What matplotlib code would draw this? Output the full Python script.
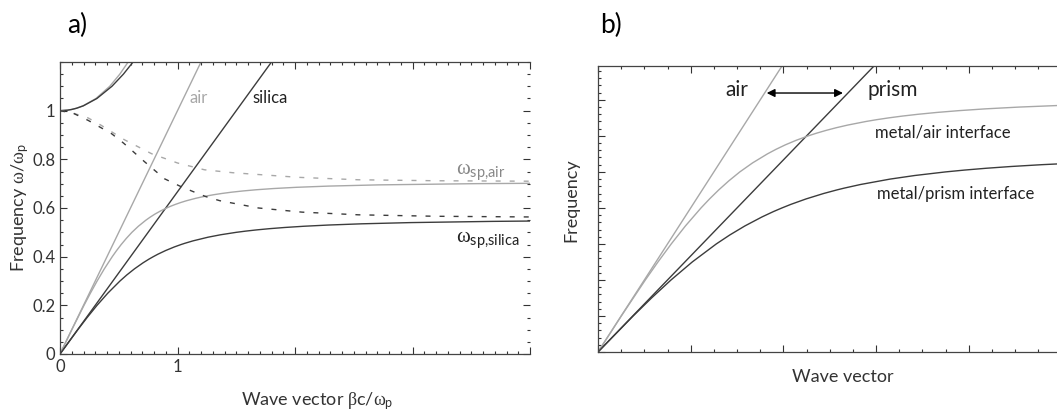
import matplotlib
matplotlib.use("Agg")
from matplotlib import pyplot as plt
from matplotlib.ticker import MultipleLocator, FixedLocator, NullFormatter

# light lines
air_line_beta = [0, 1.2]
air_line_omega = [0, 1.2]
silica_line_beta = [0, 1.8]
silica_line_omega = [0, 1.2]

# lower SPP branches
spp_air_omega = [0, 0.1, 0.2, 0.25, 0.3, 0.35, 0.4, 0.425, 0.45, 0.475, 0.5,
                 0.525, 0.55, 0.5625, 0.575, 0.5875, 0.6, 0.6075, 0.615,
                 0.6225, 0.63, 0.64, 0.645, 0.65, 0.655, 0.66, 0.665, 0.67,
                 0.675, 0.68, 0.685, 0.69, 0.695, 0.70, 0.702]
spp_air_beta = [0, 0.1005, 0.2043, 0.2588, 0.316, 0.3773, 0.4446, 0.4814,
                0.521, 0.5643, 0.612, 0.667, 0.731, 0.7675, 0.808, 0.8543,
                0.907, 0.943, 0.983, 1.0271, 1.0775, 1.1565, 1.2026, 1.2547,
                1.3135, 1.3816, 1.4611, 1.556, 1.671, 1.818, 2.011, 2.284,
                2.710, 3.535, 4.166]

spp_silica_omega = [0, 0.1, 0.15, 0.2, 0.25, 0.3, 0.325, 0.35, 0.375, 0.39,
                    0.4, 0.41, 0.425, 0.44, 0.45, 0.455, 0.465, 0.48, 0.49,
                    0.5, 0.505, 0.51, 0.515, 0.52, 0.525, 0.53, 0.535, 0.54,
                    0.545, 0.547]
spp_silica_beta = [0, 0.1517, 0.2311, 0.3151, 0.4068, 0.5104, 0.5689, 0.6339,
                   0.7077, 0.7575, 0.794, 0.8328, 0.898, 0.9733, 1.031,
                   1.0626, 1.1326, 1.260, 1.367, 1.5, 1.5803, 1.673, 1.7824,
                   1.914, 2.0762, 2.285, 2.566, 2.981, 3.681, 4.137]

# upper branches
upper_air_omega = [1, 1.002, 1.005, 1.01, 1.02, 1.05, 1.1, 1.15, 1.2, 1.21]
upper_air_beta = [0, 0.0631, 0.0995, 0.1404, 0.197, 0.306, 0.423, 0.509,
                  0.580, 0.5936]
upper_silica_omega = [1, 1.002, 1.005, 1.01, 1.02, 1.05, 1.1, 1.15, 1.2, 1.21]
upper_silica_beta = [0, 0.0633, 0.0998, 0.1411, 0.199, 0.314, 0.4416, 0.5394,
                     0.622, 0.6378]

# dashed curves
dash_air_beta = [0, 0.11, 0.24, 0.35, 0.55, 0.78, 1.0, 1.23, 1.47, 2.03,
                 2.54, 3.2, 4.05]
dash_air_omega = [1.0, 0.99, 0.97, 0.94, 0.88, 0.823, 0.785, 0.757, 0.745,
                  0.726, 0.716, 0.712, 0.71]
dash_silica_beta = [0, 0.11, 0.24, 0.44, 0.54, 0.62, 0.72, 0.89, 1.02, 1.13,
                    1.24, 1.36, 1.69, 2.06, 2.54, 3.2, 4.05]
dash_silica_omega = [1.0, 0.99, 0.96, 0.905, 0.867, 0.833, 0.79, 0.72, 0.69,
                     0.668, 0.647, 0.63, 0.60, 0.583, 0.572, 0.566, 0.563]

LIGHT = '#a8a8a8'
DARK = '#3c3c3c'
TXT = '#333333'

plt.rcParams['font.family'] = ['Lato', 'DejaVu Sans']
plt.rcParams['mathtext.fontset'] = 'custom'
plt.rcParams['mathtext.rm'] = 'Lato'
plt.rcParams['mathtext.it'] = 'Liberation Serif'
plt.rcParams['mathtext.bf'] = 'Lato:bold'


def style_ticks(ax):
    ax.tick_params(which='both', direction='in', top=True, right=True,
                   colors=TXT, labelcolor=TXT, labelsize=12, width=0.8)
    ax.tick_params(which='major', length=5)
    ax.tick_params(which='minor', length=2.5)
    for s in ax.spines.values():
        s.set_color('#444444')
        s.set_linewidth(0.9)


fig = plt.figure(figsize=(10.57, 4.2), dpi=100)

# ---- panel a
ax_a = fig.add_axes([60 / 1057, 66 / 420, 470 / 1057, 292 / 420])
ax_a.plot(air_line_beta, air_line_omega, color=LIGHT, lw=1.0)
ax_a.plot(silica_line_beta, silica_line_omega, color=DARK, lw=1.0)
ax_a.plot(spp_air_beta, spp_air_omega, color=LIGHT, lw=1.0)
ax_a.plot(spp_silica_beta, spp_silica_omega, color=DARK, lw=1.0)
ax_a.plot(upper_air_beta, upper_air_omega, color=LIGHT, lw=1.0)
ax_a.plot(upper_silica_beta, upper_silica_omega, color=DARK, lw=1.0)
ax_a.plot(dash_air_beta, dash_air_omega, color=LIGHT, lw=1.0,
          dashes=(3.6, 6.5))
ax_a.plot(dash_silica_beta, dash_silica_omega, color=DARK, lw=1.0,
          dashes=(3.6, 6.5))

ax_a.set_xlim(0, 4.0)
ax_a.set_ylim(0, 1.2)
ax_a.xaxis.set_major_locator(FixedLocator([0, 1, 2, 3, 4]))
ax_a.set_xticklabels(['0', '1', '', '', ''])
ax_a.xaxis.set_minor_locator(MultipleLocator(0.1))
ax_a.yaxis.set_major_locator(FixedLocator([0, 0.2, 0.4, 0.6, 0.8, 1.0]))
ax_a.set_yticklabels(['0', '0.2', '0.4', '0.6', '0.8', '1'])
ax_a.yaxis.set_minor_locator(MultipleLocator(0.05))
style_ticks(ax_a)
ax_a.spines['right'].set_visible(False)

ax_a.text(1.10, 1.053, 'air', color=LIGHT, fontsize=12, va='center')
ax_a.text(1.64, 1.053, 'silica', color='#222222', fontsize=12, va='center')
ax_a.text(3.37, 0.748, r'$\omega_{\mathrm{sp{,}air}}$', color='#888888',
          fontsize=15, va='center')
ax_a.text(3.37, 0.468, r'$\omega_{\mathrm{sp{,}silica}}$', color='#222222',
          fontsize=15, va='center')

ax_a.set_xlabel(r'Wave vector $\beta\mathrm{c}/\omega_{\mathrm{p}}$',
                fontsize=13, color=TXT)
ax_a.xaxis.set_label_coords(0.547, -0.125)
ax_a.set_ylabel(r'Frequency $\omega/\omega_{\mathrm{p}}$', fontsize=13,
                color=TXT)
ax_a.yaxis.set_label_coords(-0.062, 0.5)

# ---- panel b
ax_b = fig.add_axes([598 / 1057, 68 / 420, 463.5 / 1057, 286 / 420])
ax_b.plot(air_line_beta, air_line_omega, color=LIGHT, lw=1.0)
ax_b.plot(silica_line_beta, silica_line_omega, color=DARK, lw=1.0)
ax_b.plot(spp_air_beta, spp_air_omega, color=LIGHT, lw=1.0)
ax_b.plot(spp_silica_beta, spp_silica_omega, color=DARK, lw=1.0)
ax_b.set_xlim(0, 2.0)
ax_b.set_ylim(0, 0.794)
ax_b.xaxis.set_major_locator(MultipleLocator(0.4))
ax_b.xaxis.set_minor_locator(MultipleLocator(0.1))
ax_b.yaxis.set_major_locator(MultipleLocator(0.1))
ax_b.yaxis.set_minor_locator(MultipleLocator(0.02))
ax_b.xaxis.set_major_formatter(NullFormatter())
ax_b.yaxis.set_major_formatter(NullFormatter())
style_ticks(ax_b)
ax_b.tick_params(which='both', right=False)
ax_b.spines['right'].set_visible(False)

ax_b.annotate('', xy=(1.057, 0.719), xytext=(0.728, 0.719),
              arrowprops=dict(arrowstyle='<|-|>', color='black', lw=1.0,
                              mutation_scale=12, shrinkA=0, shrinkB=0))
ax_b.text(0.548, 0.728, 'air', color='#222222', fontsize=15, va='center')
ax_b.text(1.165, 0.728, 'prism', color='#222222', fontsize=15, va='center')
ax_b.text(1.195, 0.608, 'metal/air interface', color='#222222', fontsize=12,
          va='center')
ax_b.text(1.204, 0.439, 'metal/prism interface', color='#222222',
          fontsize=12, va='center')

ax_b.set_xlabel('Wave vector', fontsize=13, color=TXT)
ax_b.xaxis.set_label_coords(0.529, -0.06)
ax_b.set_ylabel('Frequency', fontsize=13, color=TXT)
ax_b.yaxis.set_label_coords(-0.04, 0.53)

fig.text(67 / 1057, 1 - 25 / 420, 'a)', fontsize=19, color='black',
         va='center')
fig.text(600 / 1057, 1 - 25 / 420, 'b)', fontsize=19, color='black',
         va='center')

fig.savefig('out.png', dpi=100)
